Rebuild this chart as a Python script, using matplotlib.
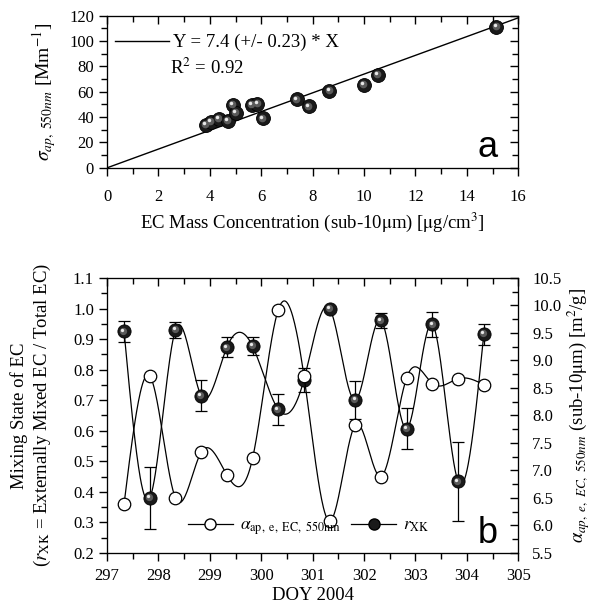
import numpy as np
import matplotlib
matplotlib.use('Agg')
import matplotlib.pyplot as plt
from matplotlib.ticker import MultipleLocator
from matplotlib.transforms import offset_copy

plt.rcParams['font.family'] = ['Liberation Serif', 'DejaVu Serif']
plt.rcParams['mathtext.fontset'] = 'stix'

# panel a: EC mass vs absorption
ec_mass = [3.85, 4.05, 4.35, 4.7, 4.9, 5.0, 5.65, 5.85, 6.05, 7.4, 7.85, 8.65, 10.0, 10.55, 15.15]
sigma_ap = [34, 36, 38.5, 37, 49.5, 43.5, 49.5, 50.5, 39, 54, 48.5, 60.5, 65.5, 73.5, 111]
slope = 7.4

# panel b: time series
doy = [297.33, 297.83, 298.33, 298.83, 299.33, 299.83, 300.33, 300.83,
       301.33, 301.83, 302.33, 302.83, 303.33, 303.83, 304.33]
alpha_ec = [6.39, 8.72, 6.50, 7.33, 6.92, 7.22, 9.92, 8.72,
            6.08, 7.83, 6.89, 8.69, 8.58, 8.67, 8.56]
r_xk = [0.925, 0.38, 0.93, 0.715, 0.873, 0.877, 0.67, 0.767,
        1.0, 0.70, 0.961, 0.607, 0.948, 0.434, 0.916]
r_xk_err = [0.035, 0.10, 0.025, 0.05, 0.033, 0.03, 0.05, 0.04,
            0.0, 0.063, 0.025, 0.068, 0.04, 0.13, 0.035]


def natural_spline(x, y, n=600):
    # plain natural cubic spline, numpy only
    x = np.asarray(x, float); y = np.asarray(y, float)
    k = len(x); h = np.diff(x)
    A = np.zeros((k, k)); b = np.zeros(k)
    A[0, 0] = 1; A[-1, -1] = 1
    for i in range(1, k - 1):
        A[i, i - 1] = h[i - 1]
        A[i, i] = 2 * (h[i - 1] + h[i])
        A[i, i + 1] = h[i]
        b[i] = 6 * ((y[i + 1] - y[i]) / h[i] - (y[i] - y[i - 1]) / h[i - 1])
    M = np.linalg.solve(A, b)
    xs = np.linspace(x[0], x[-1], n)
    idx = np.clip(np.searchsorted(x, xs) - 1, 0, k - 2)
    x0 = x[idx]; x1 = x[idx + 1]; hh = h[idx]
    ys = (M[idx] * (x1 - xs) ** 3 / (6 * hh) + M[idx + 1] * (xs - x0) ** 3 / (6 * hh)
          + (y[idx] / hh - M[idx] * hh / 6) * (x1 - xs)
          + (y[idx + 1] / hh - M[idx + 1] * hh / 6) * (xs - x0))
    return xs, ys


def ball(ax, x, y, ms, zorder=4):
    ax.plot(x, y, 'o', ms=ms, mfc='#1a1a1a', mec='black', mew=0.6, ls='none', zorder=zorder)
    ax.plot(x, y, 'o', ms=ms * 0.55, mfc='#5a5a5a', mec='none', ls='none', zorder=zorder,
            transform=offset_copy(ax.transData, fig=ax.figure, x=-0.6, y=0.6, units='points'))
    ax.plot(x, y, 'o', ms=ms * 0.25, mfc='#e8e8e8', mec='none', ls='none', zorder=zorder,
            transform=offset_copy(ax.transData, fig=ax.figure, x=-1.3, y=1.3, units='points'))


def set_len(ax):
    ax.tick_params(which='major', length=6, width=1.0)
    ax.tick_params(which='minor', length=4, width=1.0)


fig = plt.figure(figsize=(5.95, 6.08), dpi=100)

# ---------- panel a
axa = fig.add_axes([0.180, 0.724, 0.691, 0.250])
xl = np.array([0, 16])
axa.plot(xl, slope * xl, color='black', lw=1.0, label='Y = 7.4 (+/- 0.23) * X')
ball(axa, ec_mass, sigma_ap, 10)
axa.set_xlim(0, 16)
axa.set_ylim(0, 120)
axa.xaxis.set_major_locator(MultipleLocator(2))
axa.xaxis.set_minor_locator(MultipleLocator(1))
axa.yaxis.set_major_locator(MultipleLocator(20))
axa.yaxis.set_minor_locator(MultipleLocator(10))
axa.tick_params(which='both', direction='out', labelsize=12)
set_len(axa)
axa.tick_params(axis='x', pad=9)
# inward ticks on top and right
at = axa.twiny()
at.set_xlim(0, 16)
at.xaxis.set_major_locator(MultipleLocator(2))
at.xaxis.set_minor_locator(MultipleLocator(1))
at.tick_params(which='both', direction='in', labeltop=False)
set_len(at)
ar = axa.twinx()
ar.set_ylim(0, 120)
ar.yaxis.set_major_locator(MultipleLocator(20))
ar.yaxis.set_minor_locator(MultipleLocator(10))
ar.tick_params(which='both', direction='in', labelright=False)
set_len(ar)

axa.set_xlabel(r'EC Mass Concentration (sub-10$\mathrm{\mu}$m) [$\mathrm{\mu}$g/cm$^3$]', fontsize=13.5, labelpad=4)
axa.set_ylabel(r'$\sigma_{ap,\ 550nm}$ [Mm$^{-1}$]', fontsize=14, labelpad=8)
leg = axa.legend(loc='upper left', bbox_to_anchor=(0.0, 0.93), frameon=False, fontsize=13.5,
                 handlelength=2.9, handletextpad=0.2, borderaxespad=0.1, borderpad=0.3)
axa.text(0.153, 0.62, r'R$^2$ = 0.92', transform=axa.transAxes, fontsize=13.5)
axa.text(0.925, 0.07, 'a', transform=axa.transAxes, fontsize=26,
         family=['Liberation Sans', 'DejaVu Sans'], ha='center')

# ---------- panel b
axb = fig.add_axes([0.180, 0.0905, 0.691, 0.4523])
bt = axb.twiny()
ax2 = axb.twinx()
xs, ys = natural_spline(doy, r_xk)
axb.plot(xs, ys, color='black', lw=0.9, zorder=2)
axb.errorbar(doy, r_xk, yerr=r_xk_err, fmt='none', ecolor='black', elinewidth=0.9,
             capsize=4, capthick=0.9, zorder=3)
ball(axb, doy, r_xk, 9.5)

xs2, ys2 = natural_spline(doy, alpha_ec)
ax2.plot(xs2, ys2, color='black', lw=0.9, zorder=2)
ax2.plot(doy, alpha_ec, 'o', ms=9, mfc='white', mec='black', mew=0.9, zorder=4)

axb.set_xlim(297, 305)
bt.set_xlim(297, 305)
axb.set_ylim(0.2, 1.1)
ax2.set_ylim(5.5, 10.5)
for a in (axb, bt):
    a.xaxis.set_major_locator(MultipleLocator(1))
    a.xaxis.set_minor_locator(MultipleLocator(0.5))
bt.tick_params(which='both', direction='in', labeltop=False)
set_len(bt)
axb.yaxis.set_major_locator(MultipleLocator(0.1))
axb.yaxis.set_minor_locator(MultipleLocator(0.05))
ax2.yaxis.set_major_locator(MultipleLocator(0.5))
ax2.yaxis.set_minor_locator(MultipleLocator(0.25))
axb.yaxis.set_major_formatter(plt.FormatStrFormatter('%.1f'))
ax2.yaxis.set_major_formatter(plt.FormatStrFormatter('%.1f'))
axb.tick_params(which='both', direction='out', labelsize=12)
set_len(axb)
axb.tick_params(axis='x', pad=5)
ax2.tick_params(which='both', direction='in', labelsize=12, pad=10)
set_len(ax2)
axb.set_xlabel('DOY 2004', fontsize=13.5, labelpad=2)
axb.set_ylabel('Mixing State of EC\n' + r'($r_{\mathrm{XK}}$ = Externally Mixed EC / Total EC)',
               fontsize=13.5, labelpad=14, linespacing=1.3)
ax2.set_ylabel(r'$\alpha_{ap,\ e,\ EC,\ 550nm}$ (sub-10$\mathrm{\mu}$m) [m$^2$/g]',
               fontsize=13.5, labelpad=3)

h1, = ax2.plot([], [], '-o', color='black', lw=0.9, ms=8, mfc='white', mec='black')
h2, = ax2.plot([], [], '-o', color='black', lw=0.9, ms=8, mfc='#1a1a1a', mec='black')
ax2.legend([h1, h2], [r'$\alpha_{\mathrm{ap,\ e,\ EC,\ 550nm}}$', r'$r_{\mathrm{XK}}$'],
           loc='lower center', bbox_to_anchor=(0.49, 0.0), ncol=2, frameon=False,
           fontsize=12.5, handlelength=2.6, handletextpad=0.4, columnspacing=0.6)
axb.text(0.925, 0.035, 'b', transform=axb.transAxes, fontsize=26,
         family=['Liberation Sans', 'DejaVu Sans'], ha='center')

fig.savefig('out.png', dpi=100)
